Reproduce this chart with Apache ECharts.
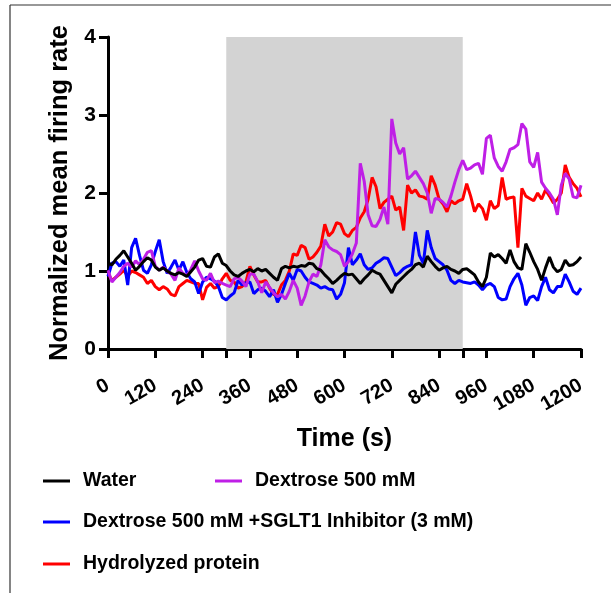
<!DOCTYPE html>
<html><head><meta charset="utf-8">
<script src="https://cdn.jsdelivr.net/npm/echarts@6/dist/echarts.min.js"></script>
<style>html,body{margin:0;padding:0;background:#fff}#c{width:611px;height:593px}</style>
</head><body><div id="c"></div>
<script>
// time axis: 0..1200 s, step 10 s
const times = Array.from({length:121},(_,i)=>i*10);
const xTicks = [0,120,240,360,480,600,720,840,960,1080,1200];
const yTicks = [0,1,2,3,4];
const shadeStart = 300, shadeEnd = 900;
const names = ['Water','Dextrose 500 mM','Dextrose 500 mM +SGLT1 Inhibitor (3 mM)','Hydrolyzed protein'];

const water = [1.10,1.08,1.15,1.20,1.26,1.18,1.10,1.01,1.06,1.12,1.17,1.14,1.05,1.01,1.04,1.00,0.97,0.95,0.98,0.96,
0.93,0.99,1.05,1.14,1.16,1.06,1.05,1.18,1.22,1.10,1.07,1.00,0.95,0.93,0.97,1.00,1.02,0.99,1.03,1.00,
1.02,0.97,0.92,0.88,1.03,1.06,1.04,1.06,1.05,1.07,1.06,1.10,1.09,1.03,1.01,0.95,0.90,0.84,0.88,0.93,
0.97,0.95,0.96,0.90,0.84,0.90,0.95,1.01,0.98,0.96,0.88,0.80,0.72,0.83,0.88,0.93,0.98,1.02,1.08,1.10,
1.05,1.19,1.12,1.06,1.01,1.04,1.06,1.02,1.00,0.97,1.02,1.03,0.99,0.95,0.86,0.80,0.92,1.23,1.18,1.21,
1.16,1.10,1.27,1.12,1.04,1.02,1.35,1.24,1.12,1.02,0.88,1.04,1.18,1.05,0.99,1.02,1.14,1.07,1.08,1.12,1.18];

const dextrose = [1.01,0.86,0.92,0.98,1.06,1.10,1.05,1.13,1.08,1.15,1.24,1.26,1.06,1.01,1.05,1.00,0.96,0.88,1.04,0.97,
0.94,1.02,1.13,1.00,0.90,0.88,0.97,0.85,0.87,0.84,0.82,0.80,0.90,0.92,0.87,0.80,0.96,0.96,0.86,0.72,
0.86,0.79,0.72,0.67,0.70,0.64,0.74,0.88,0.78,0.56,0.68,0.86,0.96,0.93,1.08,1.40,1.31,1.27,1.25,1.21,
1.06,1.12,1.22,1.36,2.38,2.15,1.72,1.58,1.57,1.66,1.82,1.60,2.95,2.64,2.50,2.58,2.18,2.22,2.28,2.20,
2.12,2.00,1.74,1.93,1.92,1.88,1.82,1.96,2.14,2.30,2.42,2.30,2.32,2.36,2.38,2.24,2.70,2.74,2.45,2.34,
2.28,2.40,2.56,2.58,2.62,2.89,2.82,2.40,2.33,2.52,2.14,2.06,2.00,1.92,1.72,2.10,2.25,2.18,1.95,1.94,2.10];

const sglt1 = [0.93,1.10,1.12,1.06,1.14,0.82,1.30,1.42,1.20,1.01,0.97,1.08,1.25,1.40,1.12,0.97,1.05,1.14,1.01,1.12,
0.98,0.90,0.86,0.71,0.86,0.92,0.90,0.87,0.80,0.66,0.63,0.68,0.72,0.88,0.82,0.85,0.86,0.71,0.76,0.78,
0.74,0.67,0.76,0.60,0.70,0.84,0.97,0.88,1.02,1.00,0.92,0.86,0.84,0.82,0.78,0.80,0.77,0.76,0.64,0.70,
0.85,1.30,1.08,1.14,1.22,1.08,1.02,1.04,1.10,1.13,1.17,1.16,1.05,0.94,0.98,1.03,1.06,1.08,1.50,1.20,
1.10,1.52,1.30,1.16,1.12,1.08,1.01,0.88,0.84,0.88,0.86,0.85,0.84,0.86,0.82,0.76,0.82,0.84,0.80,0.66,
0.63,0.64,0.80,0.90,0.97,0.82,0.56,0.66,0.68,0.62,0.80,0.92,0.76,0.72,0.80,0.80,0.96,0.86,0.74,0.70,0.78];

const protein = [0.97,0.88,0.92,0.96,1.01,0.93,1.00,0.98,0.95,0.92,0.84,0.88,0.80,0.76,0.80,0.77,0.70,0.68,0.80,0.84,
0.88,0.86,0.84,0.84,0.63,0.79,0.84,0.78,0.80,0.90,0.97,0.88,0.86,0.78,0.80,0.86,1.06,0.95,0.86,0.86,
0.88,0.78,0.70,0.70,0.82,0.88,1.00,1.22,1.20,1.33,1.30,1.15,1.18,1.24,1.32,1.60,1.45,1.50,1.62,1.60,
1.48,1.44,1.52,1.56,1.68,1.76,1.92,2.20,2.08,1.80,1.88,1.92,1.96,1.78,1.82,1.52,2.10,2.00,2.04,1.96,
1.95,1.92,2.22,2.10,1.92,1.86,1.76,1.90,1.86,1.90,1.92,2.12,1.96,1.76,1.86,1.80,1.65,1.90,1.80,1.84,
2.20,1.92,1.94,1.95,1.30,2.06,1.96,1.93,1.90,2.00,1.92,2.04,1.96,1.87,1.92,2.00,2.36,2.20,2.12,2.06,1.95];

const colors = {water:'#000000', dextrose:'#bf1fe6', sglt1:'#0000ff', protein:'#ff0000'};
const FONT = '"Liberation Sans", Arial, sans-serif';
const pair = arr => times.map((t,i)=>[t,arr[i]]);
const lineSeries = (name, arr, color, z) => ({
  name, type:'line', data: pair(arr), showSymbol:false, symbol:'none',
  lineStyle:{color, width:3}, itemStyle:{color}, z, animation:false
});

const chart = echarts.init(document.getElementById('c'), null, {renderer:'canvas'});
const legendBase = (name, left, top) => ({
  data:[name], left, top, orient:'horizontal', icon:'rect', itemWidth:27, itemHeight:3, itemGap:16,
  textStyle:{fontFamily:FONT, fontWeight:'bold', fontSize:19.5, color:'#000', padding:[0,0,0,8]},
  selectedMode:false
});
chart.setOption({
  animation:false,
  backgroundColor:'#fff',
  grid:{left:108, right:30, top:37, bottom:244, containLabel:false},
  graphic:[
    {type:'line', shape:{x1:10,y1:5,x2:611,y2:5}, style:{stroke:'#333', lineWidth:1.2}},
    {type:'line', shape:{x1:10,y1:5,x2:10,y2:593}, style:{stroke:'#333', lineWidth:1.2}}
  ],
  legend:[
    legendBase(names[0], 38, 466),
    legendBase(names[1], 210, 466),
    legendBase(names[2], 38, 507),
    legendBase(names[3], 38, 549)
  ],
  xAxis:[{
    type:'value', min:0, max:1200, interval:120,
    name:'Time (s)', nameLocation:'middle', nameGap:78,
    nameTextStyle:{fontFamily:FONT, fontWeight:'bold', fontSize:25, color:'#000'},
    axisLine:{lineStyle:{color:'#000', width:3}},
    axisTick:{length:9, lineStyle:{color:'#000', width:3}},
    axisLabel:{fontFamily:FONT, fontWeight:'bold', fontSize:20, color:'#000', rotate:30, margin:35,
      formatter: v => xTicks.includes(v) ? String(v) : ''},
    splitLine:{show:false}
  },{
    type:'value', min:0, max:1200, interval:300, position:'bottom',
    axisLine:{show:false},
    axisTick:{show:true, length:9, lineStyle:{color:'#000', width:3}},
    axisLabel:{show:false}, splitLine:{show:false}
  }],
  yAxis:{
    type:'value', min:0, max:4, interval:1,
    name:'Normalized mean firing rate', nameLocation:'middle', nameGap:24, nameRotate:90,
    nameTextStyle:{fontFamily:FONT, fontWeight:'bold', fontSize:25.5, color:'#000'},
    axisLine:{show:true, lineStyle:{color:'#000', width:3}},
    axisTick:{show:true, length:9, lineStyle:{color:'#000', width:3}},
    axisLabel:{fontFamily:FONT, fontWeight:'bold', fontSize:21, color:'#000', margin:12,
      formatter: v => yTicks.includes(v) ? String(v) : ''},
    splitLine:{show:false}
  },
  series:[
    {
      name:'shade', type:'line', data:[], silent:true,
      markArea:{silent:true, itemStyle:{color:'#d3d3d3'}, data:[[{xAxis:shadeStart, yAxis:0},{xAxis:shadeEnd, yAxis:4}]]},
      z:1
    },
    lineSeries(names[3], protein, colors.protein, 3),
    lineSeries(names[2], sglt1, colors.sglt1, 4),
    lineSeries(names[1], dextrose, colors.dextrose, 5),
    lineSeries(names[0], water, colors.water, 6)
  ]
});
</script></body></html>
